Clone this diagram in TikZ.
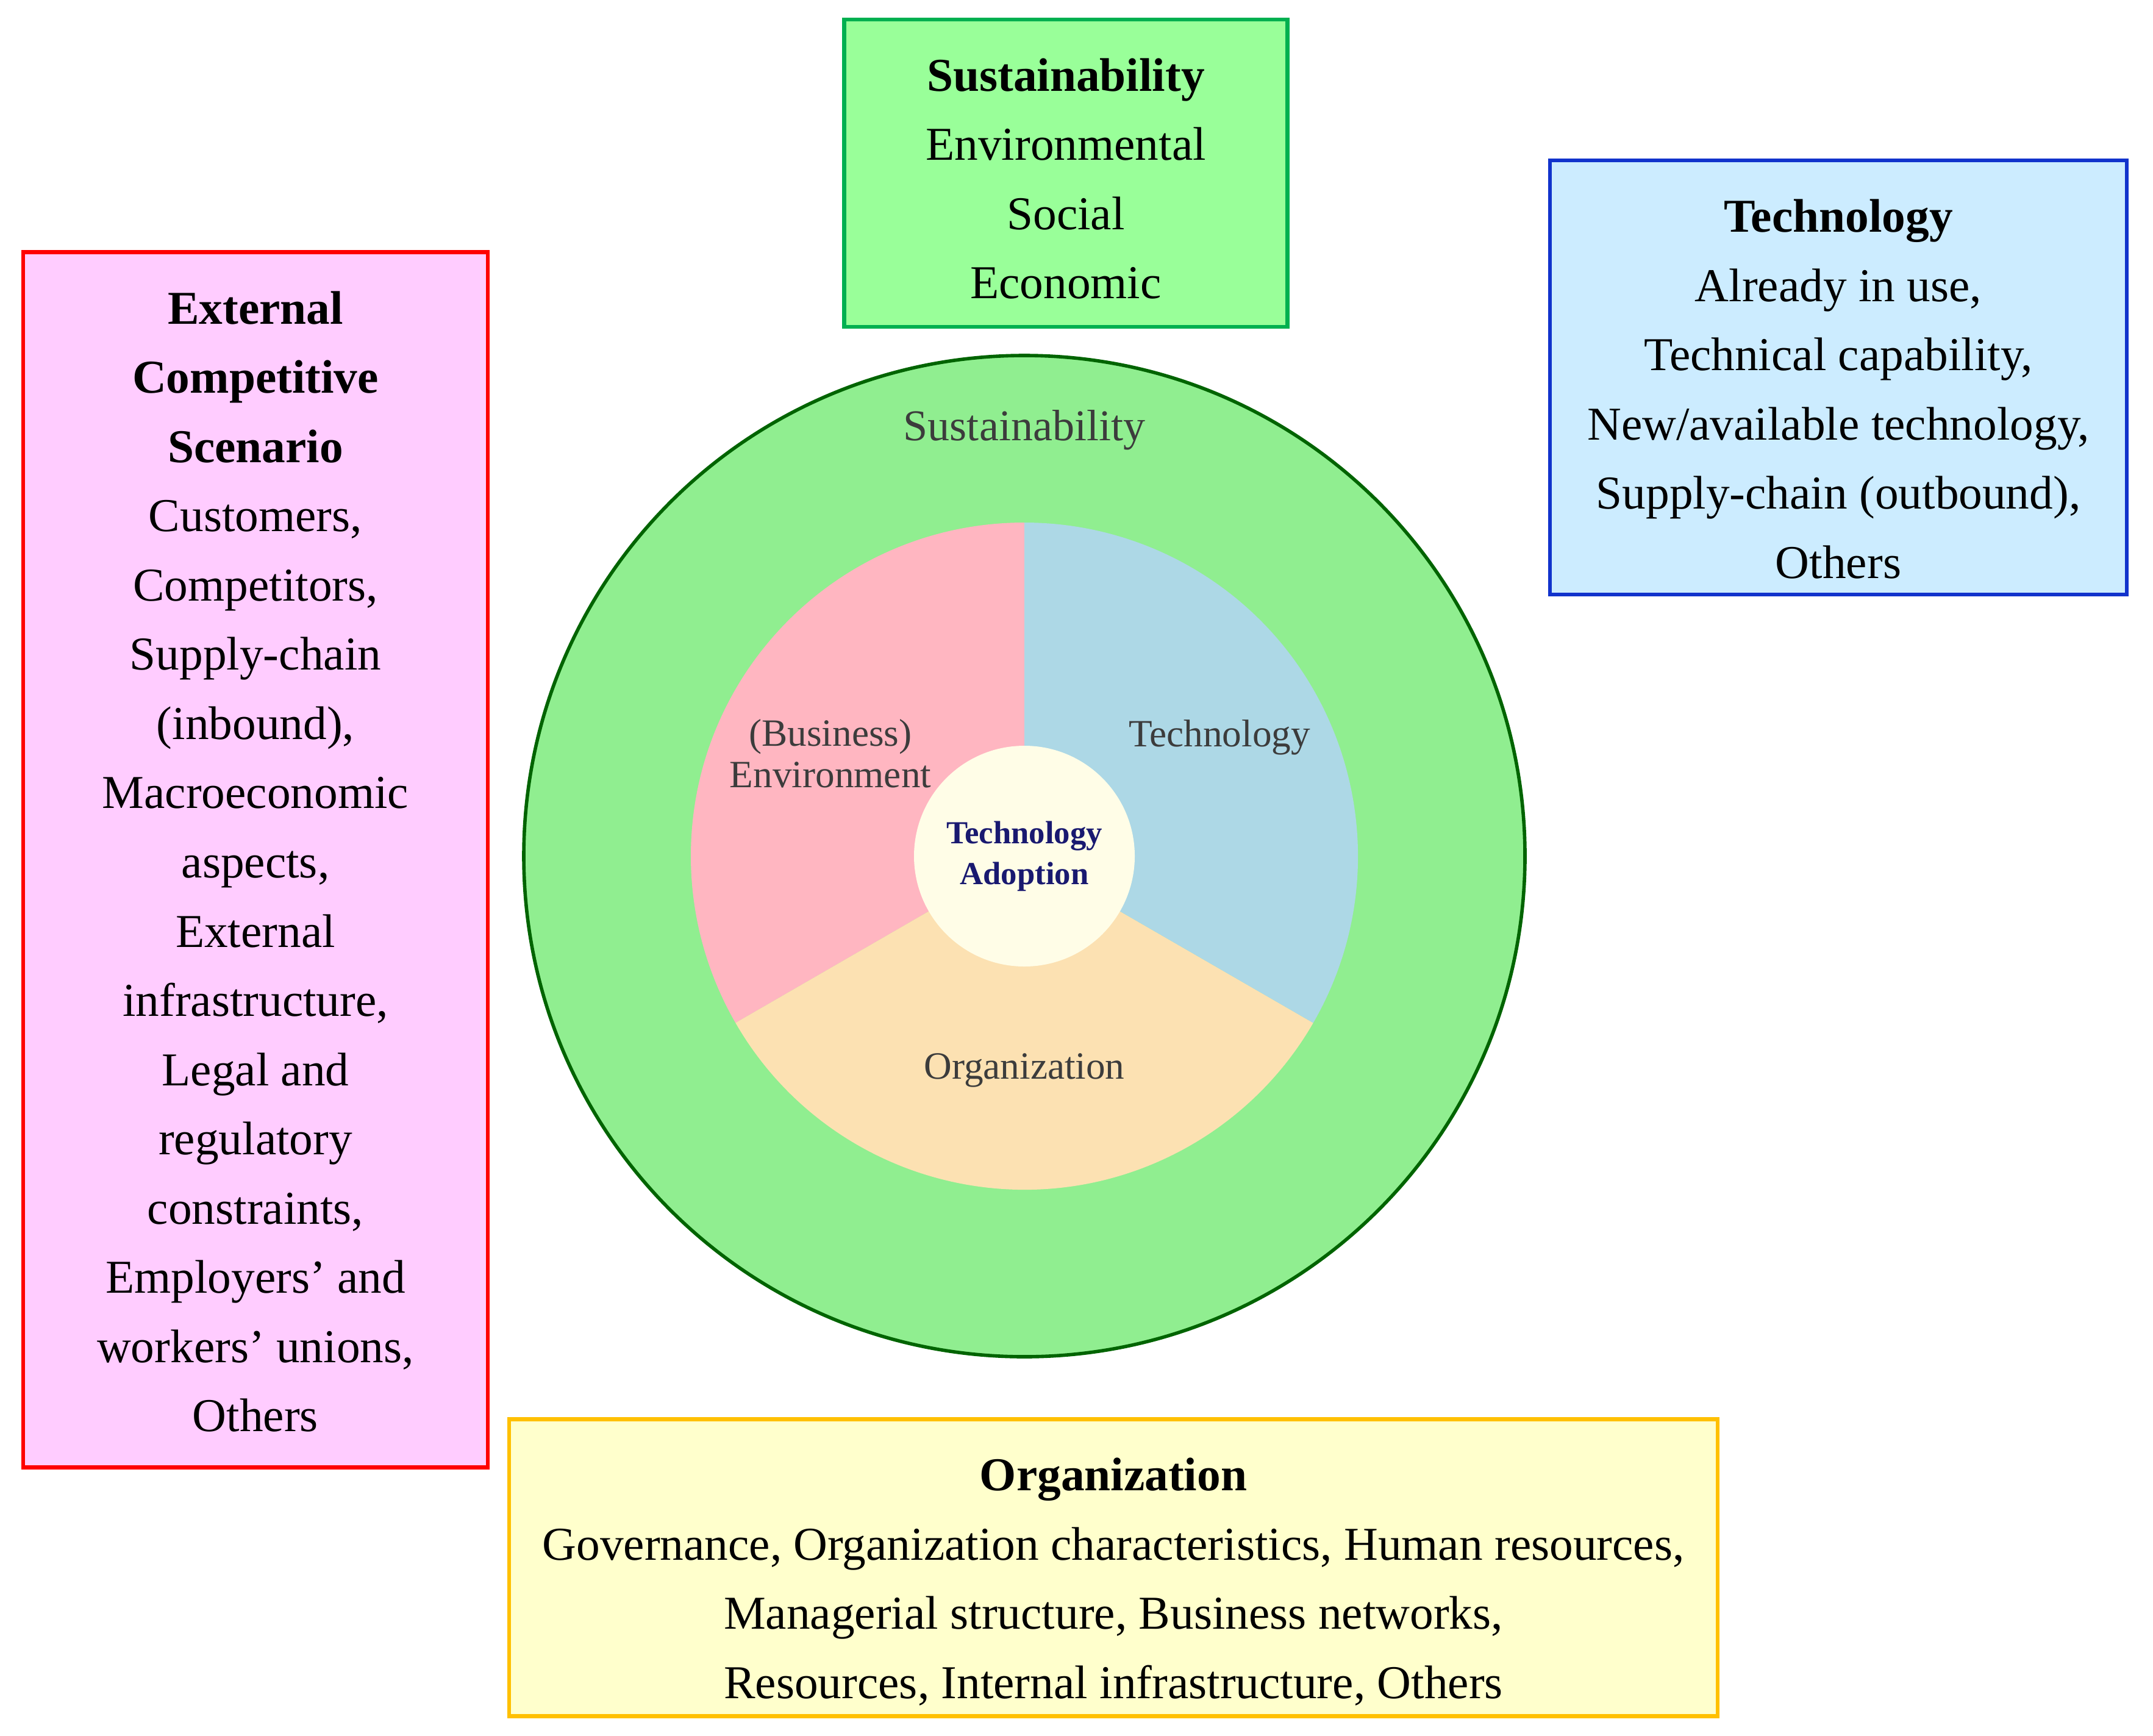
\documentclass[tikz,border=0pt]{standalone}
\usepackage{fontspec}
\setmainfont{Liberation Serif}
\usepackage{tikz}
\usetikzlibrary{positioning,shapes}
\definecolor{susfill}{RGB}{153,255,153}
\definecolor{susline}{RGB}{0,176,80}
\definecolor{techfill}{RGB}{204,236,255}
\definecolor{techline}{RGB}{17,51,204}
\definecolor{extfill}{RGB}{255,204,255}
\definecolor{extline}{RGB}{255,0,0}
\definecolor{orgfill}{RGB}{255,255,204}
\definecolor{orgline}{RGB}{255,192,0}
\definecolor{ringfill}{RGB}{144,238,144}
\definecolor{ringline}{RGB}{0,100,0}
\definecolor{envsect}{RGB}{255,182,193}
\definecolor{techsect}{RGB}{173,216,230}
\definecolor{orgsect}{RGB}{252,225,178}
\definecolor{hubfill}{RGB}{255,253,231}
\definecolor{hubtext}{RGB}{25,25,112}
\definecolor{ringtext}{RGB}{60,60,60}

\begin{document}
\begin{tikzpicture}[
		box/.style={draw, line width=1.8pt, inner sep=0pt},
		boxtext/.style={align=center, inner sep=0pt, font=\fontsize{22}{32.3}\selectfont},
		ringlabel/.style={align=center, text=ringtext, inner sep=0pt,
			font=\fontsize{18}{19.2}\selectfont}]
		\useasboundingbox (0,0) rectangle (35.31,-28.46);
		% wheel
		\coordinate (c) at (16.80,-14.04);
		\node[circle, draw=ringline, fill=ringfill, line width=1.6pt, minimum size=16.42cm] (ring) at (c) {};
		\fill[envsect]  (c) -- ++(90:5.47)  arc (90:210:5.47)  -- cycle;
		\fill[orgsect]  (c) -- ++(210:5.47) arc (210:330:5.47) -- cycle;
		\fill[techsect] (c) -- ++(330:5.47) arc (330:450:5.47) -- cycle;
		\node[circle, fill=hubfill, minimum size=3.62cm, inner sep=0pt, align=center, text=hubtext,
			font=\bfseries\fontsize{15}{19}\selectfont] (hub) at (c) {Technology\\Adoption};
		\node[ringlabel, font=\fontsize{20.5}{22}\selectfont] (ringsus) at (16.80,-7.05) {Sustainability};
		\node[ringlabel] (ringenv)  at (13.62,-12.36) {(Business)\\Environment};
		\node[ringlabel] (ringtech) at (20.00,-12.09) {Technology};
		\node[ringlabel] (ringorg)  at (16.80,-17.55) {Organization};
		% boxes
		\node[box, draw=susline, fill=susfill, minimum width=7.27cm, minimum height=5.04cm] (sus) at (17.48,-2.84) {};
		\node[boxtext] (sustext) at ([yshift=-0.09cm]sus.center)
			{\textbf{Sustainability}\\Environmental\\Social\\Economic};
		\node[box, draw=techline, fill=techfill, minimum width=9.46cm, minimum height=7.12cm] (tech) at (30.15,-6.19) {};
		\node[boxtext] (techtext) at ([yshift=-0.19cm]tech.center)
			{\textbf{Technology}\\Already in use,\\Technical capability,\\New/available technology,\\Supply-chain (outbound),\\Others};
		\node[box, draw=extline, fill=extfill, minimum width=7.62cm, minimum height=19.93cm] (ext) at (4.19,-14.10) {};
		\node[boxtext] (exttext) at ([yshift=-0.03cm]ext.center)
			{\textbf{External}\\\textbf{Competitive}\\\textbf{Scenario}\\Customers,\\Competitors,\\Supply-chain\\(inbound),\\Macroeconomic\\aspects,\\External\\infrastructure,\\Legal and\\regulatory\\constraints,\\Employers’ and\\workers’ unions,\\Others};
		\node[box, draw=orgline, fill=orgfill, minimum width=19.82cm, minimum height=4.87cm] (org) at (18.26,-25.71) {};
		\node[boxtext] (orgtext) at ([yshift=-0.23cm]org.center)
			{\textbf{Organization}\\Governance, Organization characteristics, Human resources,\\Managerial structure, Business networks,\\Resources, Internal infrastructure, Others};
	\end{tikzpicture}
\end{document}
